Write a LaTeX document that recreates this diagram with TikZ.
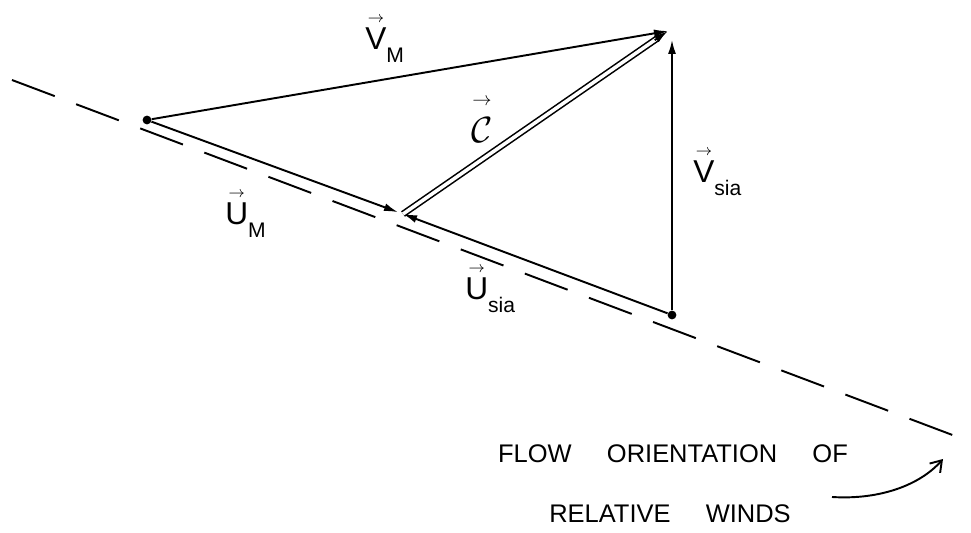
\documentclass[tikz,border=0pt]{standalone}
\usepackage{amsmath}
\usepackage{fontspec}
\setmainfont{Liberation Sans}
\usetikzlibrary{arrows.meta,calc}
\newcommand{\vlab}[2]{$\overset{\scriptscriptstyle\rightarrow}{\text{#1}}$\raisebox{-7pt}{\fontsize{12}{12}\selectfont #2}}

\begin{document}
\begin{tikzpicture}[
  x=0.02cm, y=-0.02cm,
  vec/.style={line width=1.1pt, -{Latex[length=8pt,width=4.5pt]}},
  dbl/.style={line width=0.9pt, double, double distance=2pt},
  dot/.style={circle, fill, inner sep=0pt, minimum size=5pt},
  wind/.style={line width=1.1pt, dash pattern=on 26pt off 13pt},
  lab/.style={font=\fontsize{18}{18}\selectfont, inner sep=0pt, anchor=base west},
  caption/.style={font=\fontsize{14.5}{14.5}\selectfont, inner sep=0pt, anchor=base}
]
\useasboundingbox (0,0) rectangle (971,533);
% triangle of velocities
\node[dot] (a) at (147,120) {};
\node[dot] (d) at (672,315) {};
\coordinate (b) at (403,214);
\coordinate (c) at (668,31);
\coordinate (wl) at (12,80);
\coordinate (wr) at (971,442);
\draw[wind] (wl) -- (wr);
\draw[vec] (a) -- (c);
\draw[vec, shorten >=3pt] (a) -- (b);
\draw[vec] (d) -- (b);
\draw[vec, shorten >=5pt] (d) -- (d |- c);
\draw[dbl, shorten >=7pt] (b) -- (c);
\draw[vec] ($(b)!0.95!(c)$) -- (c);
% labels
\node[lab] (vm) at (365,50) {\vlab{V}{M}};
\node[lab] (cl) at (471,143) {\fontsize{22}{22}\selectfont$\overset{\raisebox{3pt}{$\scriptscriptstyle\rightarrow$}}{\mathcal{C}}$};
\node[lab] (vs) at (693,183) {\vlab{V}{sia}};
\node[lab] (um) at (225,225) {\vlab{U}{M}};
\node[lab] (us) at (465,300) {\vlab{U}{sia}};
% flow note
\node[caption] (flow) at (673,463) {FLOW\hspace{16pt} ORIENTATION\hspace{16pt} OF};
\node[caption] (rel) at (670,523) {RELATIVE\hspace{16pt} WINDS};
\coordinate (ct) at (832,497);
\coordinate (ch) at (943,459);
\draw[line width=1.1pt, -{Straight Barb[length=6pt,width=8pt]}] (ct) .. controls (880,500) and (920,485) .. (ch);
\end{tikzpicture}
\end{document}
